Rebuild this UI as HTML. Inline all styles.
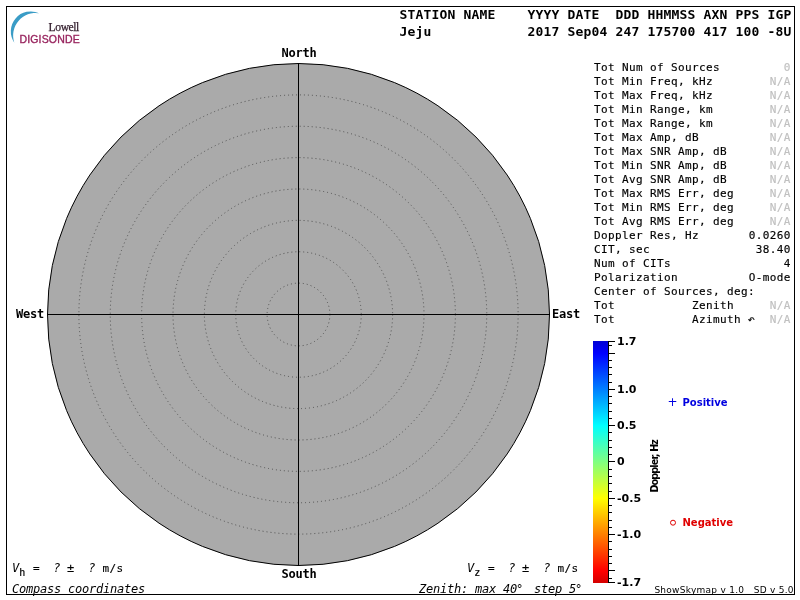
<!DOCTYPE html>
<html><head><meta charset="utf-8"><title>ShowSkymap</title>
<style>
html,body{margin:0;padding:0;background:#fff;}
svg{display:block;}
text{white-space:pre;}
.m{font-family:'DejaVu Sans Mono','Liberation Mono',monospace;font-size:11px;letter-spacing:0.3774px;fill:#000;stroke:#000;stroke-width:0.15px;}
.mi{font-family:'DejaVu Sans Mono','Liberation Mono',monospace;font-size:12px;font-style:italic;letter-spacing:-0.2246px;fill:#000;}
.g{fill:#c0c0c0;stroke:#c0c0c0;}
.h{font-family:'DejaVu Sans Mono','Liberation Mono',monospace;font-size:13px;font-weight:bold;letter-spacing:0.1733px;fill:#000;}
.c{font-family:'DejaVu Sans Mono','Liberation Mono',monospace;font-size:12px;font-weight:bold;letter-spacing:-0.2246px;fill:#000;}
.t{font-family:'DejaVu Sans','Liberation Sans',sans-serif;font-size:11px;font-weight:bold;fill:#000;}
.l{font-family:'DejaVu Sans','Liberation Sans',sans-serif;font-size:10px;font-weight:bold;}
</style></head><body>
<svg width="800" height="600" viewBox="0 0 800 600">
<rect x="0" y="0" width="800" height="600" fill="#fff"/>
<rect x="6.5" y="6.5" width="788" height="588" fill="none" stroke="#000" stroke-width="1"/>
<path d="M39.3 13.3 A20 20 0 0 0 14.3 42.7 A22.5 22.5 0 0 1 39.3 13.3 Z" fill="#3a9cc6"/>
<text x="48.6" y="30.6" style="font-family:'Liberation Serif',serif;font-size:11.6px;letter-spacing:-0.42px;fill:#35202f;stroke:#35202f;stroke-width:0.25px;">Lowell</text>
<text x="19.4" y="42.8" style="font-family:'Liberation Sans',sans-serif;font-size:10.5px;fill:#98245e;stroke:#98245e;stroke-width:0.35px;letter-spacing:0.17px;">DIGISONDE</text>
<circle cx="298.5" cy="314.5" r="251" fill="#aaaaaa" stroke="#000" stroke-width="1"/>
<circle cx="298.5" cy="314.5" r="31.38" fill="none" stroke="#505050" stroke-width="1" stroke-dasharray="1 3"/>
<circle cx="298.5" cy="314.5" r="62.75" fill="none" stroke="#505050" stroke-width="1" stroke-dasharray="1 3"/>
<circle cx="298.5" cy="314.5" r="94.12" fill="none" stroke="#505050" stroke-width="1" stroke-dasharray="1 3"/>
<circle cx="298.5" cy="314.5" r="125.50" fill="none" stroke="#505050" stroke-width="1" stroke-dasharray="1 3"/>
<circle cx="298.5" cy="314.5" r="156.88" fill="none" stroke="#505050" stroke-width="1" stroke-dasharray="1 3"/>
<circle cx="298.5" cy="314.5" r="188.25" fill="none" stroke="#505050" stroke-width="1" stroke-dasharray="1 3"/>
<circle cx="298.5" cy="314.5" r="219.62" fill="none" stroke="#505050" stroke-width="1" stroke-dasharray="1 3"/>
<line x1="47" y1="314.5" x2="550" y2="314.5" stroke="#000" stroke-width="1"/>
<line x1="298.5" y1="63" x2="298.5" y2="566" stroke="#000" stroke-width="1"/>
<text class="c" x="281.5" y="57">North</text>
<text class="c" x="281.5" y="578">South</text>
<text class="c" x="16" y="318">West</text>
<text class="c" x="552" y="318">East</text>
<text class="h" x="399.5" y="19">STATION NAME    YYYY DATE  DDD HHMMSS AXN PPS IGP</text>
<text class="h" x="399.5" y="36">Jeju            2017 Sep04 247 175700 417 100 -8U</text>
<text class="m" x="594" y="71">Tot Num of Sources</text>
<text class="m g" x="783.7" y="71">0</text>
<text class="m" x="594" y="85">Tot Min Freq, kHz</text>
<text class="m g" x="769.7" y="85">N/A</text>
<text class="m" x="594" y="99">Tot Max Freq, kHz</text>
<text class="m g" x="769.7" y="99">N/A</text>
<text class="m" x="594" y="113">Tot Min Range, km</text>
<text class="m g" x="769.7" y="113">N/A</text>
<text class="m" x="594" y="127">Tot Max Range, km</text>
<text class="m g" x="769.7" y="127">N/A</text>
<text class="m" x="594" y="141">Tot Max Amp, dB</text>
<text class="m g" x="769.7" y="141">N/A</text>
<text class="m" x="594" y="155">Tot Max SNR Amp, dB</text>
<text class="m g" x="769.7" y="155">N/A</text>
<text class="m" x="594" y="169">Tot Min SNR Amp, dB</text>
<text class="m g" x="769.7" y="169">N/A</text>
<text class="m" x="594" y="183">Tot Avg SNR Amp, dB</text>
<text class="m g" x="769.7" y="183">N/A</text>
<text class="m" x="594" y="197">Tot Max RMS Err, deg</text>
<text class="m g" x="769.7" y="197">N/A</text>
<text class="m" x="594" y="211">Tot Min RMS Err, deg</text>
<text class="m g" x="769.7" y="211">N/A</text>
<text class="m" x="594" y="225">Tot Avg RMS Err, deg</text>
<text class="m g" x="769.7" y="225">N/A</text>
<text class="m" x="594" y="239">Doppler Res, Hz</text>
<text class="m" x="748.7" y="239">0.0260</text>
<text class="m" x="594" y="253">CIT, sec</text>
<text class="m" x="755.7" y="253">38.40</text>
<text class="m" x="594" y="267">Num of CITs</text>
<text class="m" x="783.7" y="267">4</text>
<text class="m" x="594" y="281">Polarization</text>
<text class="m" x="748.7" y="281">O-mode</text>
<text class="m" x="594" y="295">Center of Sources, deg:</text>
<text class="m" x="594" y="309">Tot           Zenith</text>
<text class="m g" x="769.7" y="309">N/A</text>
<text class="m" x="594" y="323">Tot           Azimuth</text>
<text class="m g" x="769.7" y="323">N/A</text>
<text x="748.2" y="323.2" style="font-family:'DejaVu Sans','Liberation Sans',sans-serif;font-size:8px;fill:#000;stroke:#000;stroke-width:0.3px;">&#8630;</text>
<text class="mi" x="12" y="572">V</text>
<text x="19.3" y="576" style="font-family:'DejaVu Sans Mono','Liberation Mono',monospace;font-size:10px;fill:#000;stroke:#000;stroke-width:0.2px;">h</text>
<text class="m" x="33" y="572">=</text>
<text class="mi" x="53.2" y="572">?</text>
<text class="m" x="67" y="572" style="font-size:12px">&#177;</text>
<text class="mi" x="88.2" y="572">?</text>
<text class="m" x="102.6" y="572">m/s</text>
<text class="mi" x="467" y="572">V</text>
<text x="474.3" y="576" style="font-family:'DejaVu Sans Mono','Liberation Mono',monospace;font-size:10px;fill:#000;stroke:#000;stroke-width:0.2px;">z</text>
<text class="m" x="488" y="572">=</text>
<text class="mi" x="508.2" y="572">?</text>
<text class="m" x="522" y="572" style="font-size:12px">&#177;</text>
<text class="mi" x="543.2" y="572">?</text>
<text class="m" x="557.6" y="572">m/s</text>
<text class="mi" x="12" y="593">Compass coordinates</text>
<text class="mi" x="419" y="593">Zenith: max 40<tspan dx="-1">&#176;</tspan></text>
<text class="mi" x="534" y="593">step 5<tspan dx="-1">&#176;</tspan></text>
<text x="654.4" y="593" style="font-family:'DejaVu Sans','Liberation Sans',sans-serif;font-size:9px;fill:#000;letter-spacing:0.27px;">ShowSkymap v 1.0   SD v 5.0</text>
<defs><linearGradient id="jet" gradientUnits="userSpaceOnUse" x1="0" y1="341" x2="0" y2="583">
<stop offset="0.0000" stop-color="rgb(0,0,212)"/>
<stop offset="0.0506" stop-color="rgb(0,0,255)"/>
<stop offset="0.3502" stop-color="rgb(0,255,255)"/>
<stop offset="0.5000" stop-color="rgb(128,255,128)"/>
<stop offset="0.6498" stop-color="rgb(255,255,0)"/>
<stop offset="0.9494" stop-color="rgb(255,0,0)"/>
<stop offset="1.0000" stop-color="rgb(212,0,0)"/>
</linearGradient></defs>
<rect x="593" y="341" width="15" height="242" fill="url(#jet)"/>
<line x1="608.5" y1="341" x2="608.5" y2="583" stroke="#000" stroke-width="1"/>
<path d="M609 461.5 H615 M609 454.5 H612 M609 469.5 H612 M609 447.5 H612 M609 476.5 H612 M609 440.5 H612 M609 483.5 H612 M609 432.5 H612 M609 491.5 H612 M609 425.5 H615 M609 498.5 H615 M609 418.5 H612 M609 505.5 H612 M609 411.5 H612 M609 512.5 H612 M609 403.5 H612 M609 520.5 H612 M609 396.5 H612 M609 527.5 H612 M609 389.5 H615 M609 534.5 H615 M609 382.5 H612 M609 541.5 H612 M609 374.5 H612 M609 549.5 H612 M609 367.5 H612 M609 556.5 H612 M609 360.5 H612 M609 563.5 H612 M609 353.5 H615 M609 570.5 H615 M609 345.5 H612 M609 578.5 H612 M609 341.5 H615 M609 582.5 H615" stroke="#000" stroke-width="1" fill="none"/>
<text class="t" x="617" y="345">1.7</text>
<text class="t" x="617" y="393">1.0</text>
<text class="t" x="617" y="429">0.5</text>
<text class="t" x="617" y="465">0</text>
<text class="t" x="617" y="502">-0.5</text>
<text class="t" x="617" y="538">-1.0</text>
<text class="t" x="617" y="586">-1.7</text>
<text transform="translate(657.5,492.6) rotate(-90)" style="font-family:'DejaVu Sans','Liberation Sans',sans-serif;font-size:9.6px;font-weight:bold;fill:#000;letter-spacing:-0.85px;">Doppler, Hz</text>
<text x="667.6" y="406.3" style="font-family:'DejaVu Sans','Liberation Sans',sans-serif;font-size:12px;fill:#0000e0;">+</text>
<text class="l" x="682.5" y="406" fill="#0000e0">Positive</text>
<circle cx="673" cy="522.7" r="2.5" fill="none" stroke="#e00000" stroke-width="1"/>
<text class="l" x="682.5" y="526" fill="#e00000">Negative</text>
</svg>
</body></html>
